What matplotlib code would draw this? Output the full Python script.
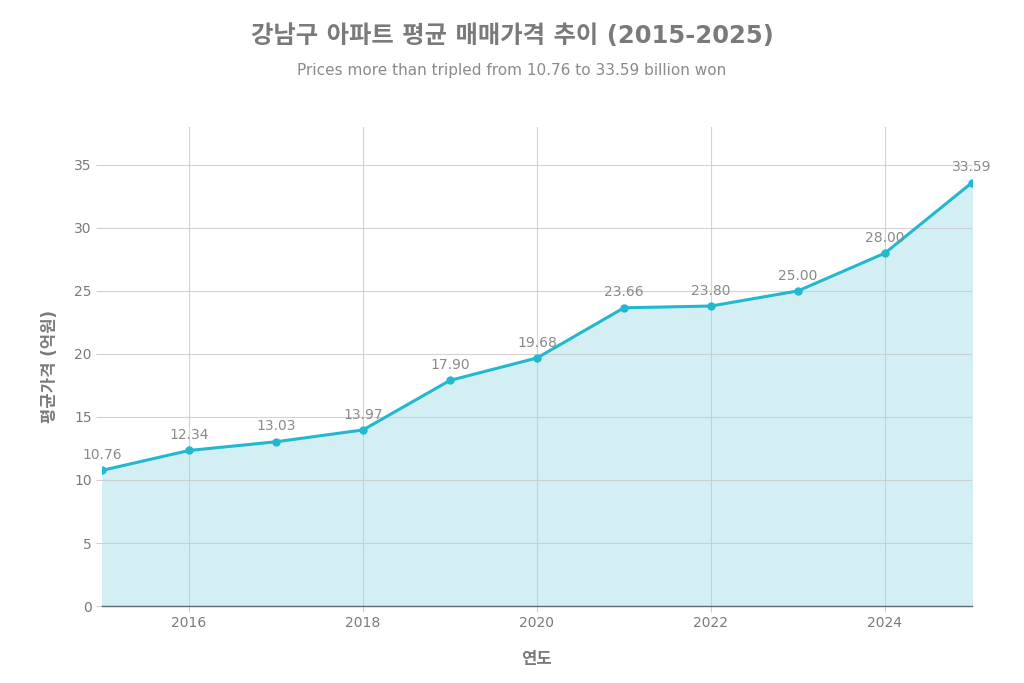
import matplotlib
matplotlib.use("Agg")
import matplotlib.pyplot as plt

years = [2015, 2016, 2017, 2018, 2019, 2020, 2021, 2022, 2023, 2024, 2025]
prices = [10.76, 12.34, 13.03, 13.97, 17.90, 19.68, 23.66, 23.80, 25.00, 28.00, 33.59]
xticks = [2016, 2018, 2020, 2022, 2024]
yticks = [0, 5, 10, 15, 20, 25, 30, 35]

title = "강남구 아파트 평균 매매가격 추이 (2015-2025)"
subtitle = "Prices more than tripled from 10.76 to 33.59 billion won"
xlabel = "연도"
ylabel = "평균가격 (억원)"

plt.rcParams['font.family'] = ['DejaVu Sans', 'Noto Sans CJK KR']

line_c = "#22b8cf"
fill_c = "#d3eff4"
txt_c = "#7a7a7a"

fig = plt.figure(figsize=(10.24, 6.83), dpi=100)
ax = fig.add_axes([0.0996, 0.1127, 0.8496, 0.7013])

ax.fill_between(years, prices, 0, color=fill_c, zorder=1)
ax.grid(True, color="#c8c8c8", lw=0.8, alpha=0.8, zorder=2)
ax.plot(years, prices, color=line_c, lw=2.2, marker="o", ms=5, zorder=3)
for x, y in zip(years, prices):
    ax.annotate(f"{y:.2f}", (x, y), xytext=(0, 6), textcoords="offset points",
                ha="center", va="bottom", fontsize=10, color="#8a8a8a", zorder=4)

ax.set_xlim(2015, 2025)
ax.set_ylim(0, 38)
ax.set_xticks(xticks)
ax.set_yticks(yticks)
for s in ["top", "right", "left"]:
    ax.spines[s].set_visible(False)
ax.spines["bottom"].set_color("#5c6b6e")
ax.spines["bottom"].set_linewidth(1.0)
ax.spines["bottom"].set_zorder(5)
ax.tick_params(axis="both", length=4, color="#d0d0d0", labelcolor=txt_c, labelsize=10)

ax.set_xlabel(xlabel, fontsize=12, fontweight="bold", color=txt_c, labelpad=14)
ax.set_ylabel(ylabel, fontsize=12, fontweight="bold", color=txt_c, labelpad=11)

fig.text(0.5, 0.948, title, ha="center", va="center", fontsize=17.5, fontweight="bold", color=txt_c)
fig.text(0.5, 0.897, subtitle, ha="center", va="center", fontsize=11, color="#8a8a8a")

fig.savefig("out.png", dpi=100)
